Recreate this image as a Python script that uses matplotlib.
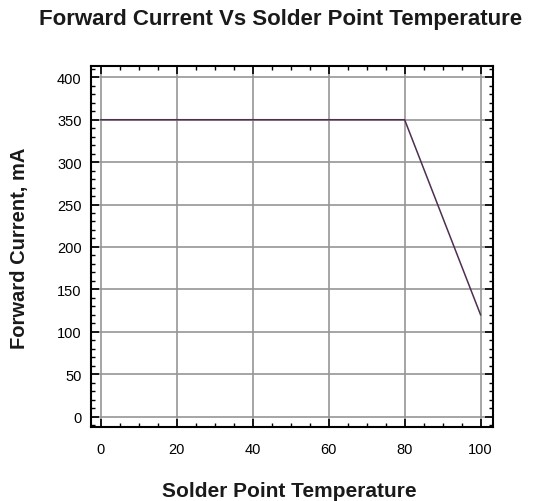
import matplotlib
matplotlib.use("Agg")
import matplotlib.pyplot as plt
from matplotlib.ticker import MultipleLocator

temperature = [0, 80, 100]
current = [350, 350, 120]
x_ticks = [0, 20, 40, 60, 80, 100]
y_ticks = [0, 50, 100, 150, 200, 250, 300, 350, 400]

plt.rcParams['font.family'] = ['Liberation Sans', 'DejaVu Sans']
fig = plt.figure(figsize=(5.41, 5.02), dpi=100)
W, H = 541, 502
left, right, top, bottom = 90.7, 492.7, 67.3, 427.7
ax = fig.add_axes([left / W, 1 - bottom / H, (right - left) / W, (bottom - top) / H])

ax.plot(temperature, current, color='#4e2f52', lw=1.1, zorder=3)
ax.set_xlim(-2.7, 103.2)
ax.set_ylim(-12, 413)
ax.set_xticks(x_ticks)
ax.set_yticks(y_ticks)
ax.xaxis.set_minor_locator(MultipleLocator(5))
ax.yaxis.set_minor_locator(MultipleLocator(10))
ax.grid(True, which='major', color='#969696', lw=1.2)
ax.tick_params(which='both', direction='in', top=True, right=True, color='black')
ax.tick_params(which='major', length=6, width=1.2, labelsize=10.5, pad=6.5)
ax.tick_params(axis='x', which='major', pad=11)
ax.tick_params(which='minor', length=3, width=1.0)
for s in ax.spines.values():
    s.set_linewidth(1.5)

fig.text(281 / W, 1 - 20 / H, 'Forward Current Vs Solder Point Temperature',
         ha='center', va='center', fontsize=16, fontweight='bold', color='#1a1a1a')
fig.text(289 / W, 1 - 492 / H, 'Solder Point Temperature',
         ha='center', va='center', fontsize=15, fontweight='bold', color='#1a1a1a')
fig.text(20 / W, 1 - 248 / H, 'Forward Current, mA', rotation=90,
         ha='center', va='center', fontsize=14.5, fontweight='bold', color='#1a1a1a')

fig.savefig('out.png', dpi=100)
